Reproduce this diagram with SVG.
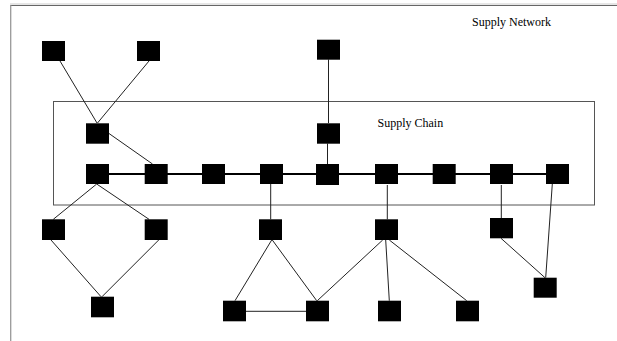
<svg xmlns="http://www.w3.org/2000/svg" width="617" height="341" viewBox="0 0 617 341">
<style>
.n{fill:#000}
.e{stroke:#222;stroke-width:1;fill:none}
.t{stroke:#000;stroke-width:2;fill:none}
.lbl{font-family:"Liberation Serif","Times New Roman",serif;font-size:12px;fill:#000}
</style>
<rect width="617" height="341" fill="#fff"/>
<g id="frames">
<line x1="10" y1="4" x2="617" y2="4" stroke="#ccc" stroke-width="1"/>
<line x1="10" y1="5.5" x2="617" y2="5.5" stroke="#666" stroke-width="1"/>
<line x1="10.7" y1="5" x2="10.7" y2="341" stroke="#999" stroke-width="1.3"/>
<rect x="53.5" y="101.5" width="541" height="103.5" fill="none" stroke="#555" stroke-width="1"/>
<text class="lbl" x="472" y="26">Supply Network</text>
<text class="lbl" x="377.5" y="127">Supply Chain</text>
</g>
<g id="connectors">
<line class="t" x1="109" y1="174" x2="546" y2="174"/>
<line class="e" x1="60" y1="61" x2="97" y2="123"/>
<line class="e" x1="149" y1="61" x2="97.5" y2="123"/>
<line class="e" x1="109" y1="133.5" x2="152.5" y2="164"/>
<line class="e" x1="328.5" y1="59.5" x2="328.5" y2="123"/>
<line class="e" x1="327.5" y1="143.5" x2="327.5" y2="164"/>
<line class="e" x1="96.7" y1="184" x2="53.3" y2="219.3"/>
<line class="e" x1="96.7" y1="184" x2="149" y2="219.3"/>
<line class="e" x1="51" y1="240" x2="101" y2="296.7"/>
<line class="e" x1="158.7" y1="240" x2="102" y2="296.7"/>
<line class="e" x1="270.7" y1="184" x2="270.7" y2="219.3"/>
<line class="e" x1="271.7" y1="240" x2="235" y2="300.7"/>
<line class="e" x1="272.3" y1="240" x2="316.7" y2="300.7"/>
<line class="e" x1="246" y1="311.3" x2="306" y2="311.3"/>
<line class="e" x1="387.3" y1="185" x2="387.3" y2="219.3"/>
<line class="e" x1="382.7" y1="240" x2="317.3" y2="300.7"/>
<line class="e" x1="385.7" y1="240" x2="389.3" y2="300.7"/>
<line class="e" x1="389.3" y1="240" x2="466.7" y2="300.7"/>
<line class="e" x1="501.3" y1="185" x2="501.3" y2="218"/>
<line class="e" x1="501" y1="238.3" x2="545" y2="277.7"/>
<line class="e" x1="552.3" y1="184" x2="545.7" y2="277.7"/>
</g>
<g id="nodes">
<rect id="n1" class="n" x="42" y="41" width="23" height="20"/>
<rect id="n2" class="n" x="137" y="41" width="23" height="20"/>
<rect id="n3" class="n" x="317" y="39.7" width="23" height="20"/>
<rect id="n4" class="n" x="86" y="123.3" width="23" height="20.4"/>
<rect id="n5" class="n" x="317" y="123.3" width="23" height="20.4"/>
<rect id="n6" class="n" x="86" y="164" width="23" height="20"/>
<rect id="n7" class="n" x="144.7" y="164" width="23" height="20"/>
<rect id="n8" class="n" x="202" y="164" width="23" height="20"/>
<rect id="n9" class="n" x="260" y="164" width="23" height="20"/>
<rect id="n10" class="n" x="316" y="164" width="23" height="21"/>
<rect id="n11" class="n" x="375" y="164" width="23" height="20"/>
<rect id="n12" class="n" x="432.7" y="164" width="23" height="20"/>
<rect id="n13" class="n" x="490" y="164" width="23" height="20"/>
<rect id="n14" class="n" x="546" y="164" width="23" height="20"/>
<rect id="n15" class="n" x="42" y="219.3" width="23" height="20.7"/>
<rect id="n16" class="n" x="144.7" y="219.3" width="23" height="20.7"/>
<rect id="n17" class="n" x="259" y="219.3" width="23" height="20.7"/>
<rect id="n18" class="n" x="375" y="219.3" width="23" height="20.7"/>
<rect id="n19" class="n" x="490" y="218" width="23" height="20.3"/>
<rect id="n20" class="n" x="533.7" y="277.7" width="23" height="20"/>
<rect id="n21" class="n" x="91" y="296.7" width="23" height="20.6"/>
<rect id="n22" class="n" x="223" y="300.7" width="23" height="20.6"/>
<rect id="n23" class="n" x="306" y="300.7" width="23" height="20.6"/>
<rect id="n24" class="n" x="378" y="300.7" width="23" height="20.6"/>
<rect id="n25" class="n" x="456" y="300.7" width="23" height="20.6"/>
</g>
</svg>
